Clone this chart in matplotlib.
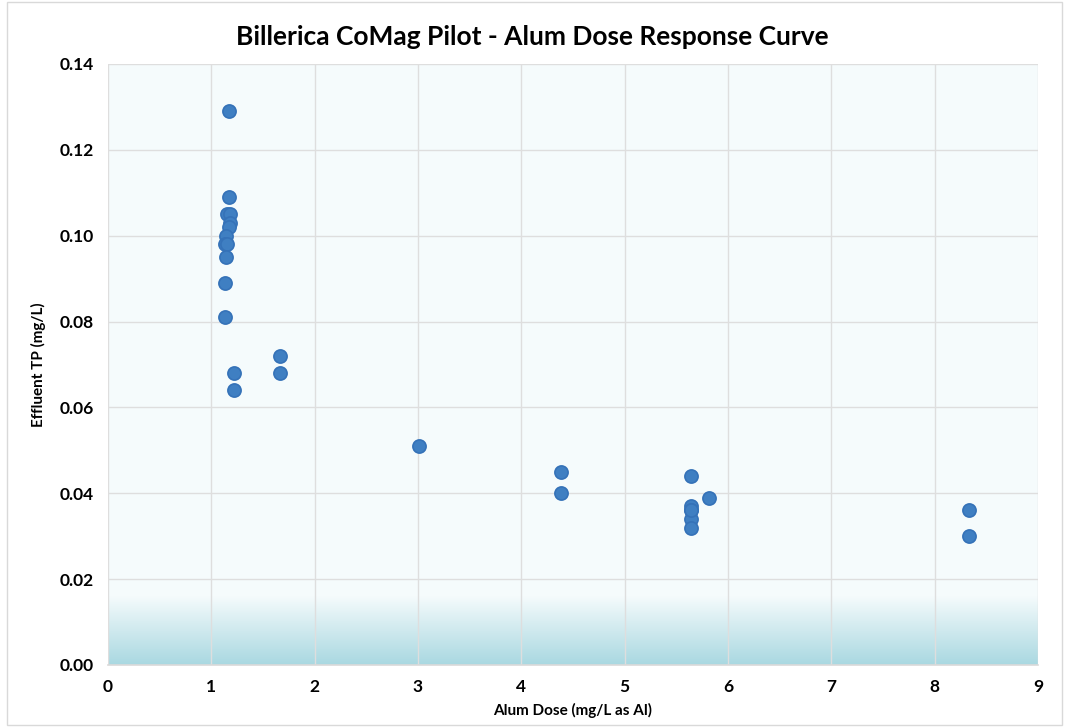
import numpy as np
import matplotlib
matplotlib.use("Agg")
import matplotlib.pyplot as plt
from matplotlib.colors import LinearSegmentedColormap

plt.rcParams['font.family'] = ['Lato', 'DejaVu Sans']

# Données
dose = [1.17, 1.17, 1.15, 1.18, 1.18, 1.17, 1.14, 1.13, 1.15, 1.14, 1.13, 1.13,
        1.22, 1.22, 1.66, 1.66, 3.01, 4.38, 4.38,
        5.64, 5.64, 5.64, 5.64, 5.64, 5.64, 5.82, 8.33, 8.33]
tp = [0.129, 0.109, 0.105, 0.105, 0.103, 0.102, 0.100, 0.098, 0.098, 0.095, 0.089, 0.081,
      0.068, 0.064, 0.072, 0.068, 0.051, 0.045, 0.040,
      0.044, 0.037, 0.036, 0.034, 0.032, 0.036, 0.039, 0.036, 0.030]

xticks = np.arange(0, 10, 1)
yticks = np.arange(0, 0.141, 0.02)

fig = plt.figure(figsize=(10.65, 7.27), dpi=100)
ax = fig.add_axes([0.1014, 0.0853, 0.8732, 0.8267])

# fond avec dégradé en bas
ax.set_facecolor('#f5fbfc')
cmap = LinearSegmentedColormap.from_list('fond', ['#a9d8e1', '#cfe9ee', '#f5fbfc'])
grad = np.linspace(0, 1, 256).reshape(-1, 1)
ax.imshow(grad, extent=[0, 9, 0, 0.016], origin='lower', aspect='auto', cmap=cmap, zorder=0)

ax.scatter(dose, tp, s=90, color='#3f7fc2', edgecolor='#3572b8', linewidth=1.2, zorder=3)

ax.set_xlim(0, 9)
ax.set_ylim(0, 0.14)
ax.set_xticks(xticks)
ax.set_yticks(yticks)
ax.set_yticklabels([f"{v:.2f}" for v in yticks])
ax.grid(True, color='#dedede', linewidth=1.0, zorder=1)
ax.set_axisbelow(True)
for s in ['top', 'right', 'left']:
    ax.spines[s].set_visible(False)
ax.spines['bottom'].set_color('#d9d9d9')
ax.spines['bottom'].set_linewidth(1.2)
ax.tick_params(length=0, labelsize=12.5, pad=10)
for lab in ax.get_xticklabels() + ax.get_yticklabels():
    lab.set_fontweight('bold')

ax.set_xlabel("Alum Dose (mg/L as Al)", fontsize=11, fontweight='bold', labelpad=6)
ax.set_ylabel("Effluent TP (mg/L)", fontsize=11, fontweight='bold', labelpad=10)
fig.suptitle("Billerica CoMag Pilot - Alum Dose Response Curve", fontsize=19,
             fontweight='bold', y=0.965)

# cadre léger autour de la figure
fig.patches.append(plt.Rectangle((0.007, 0.003), 0.99, 0.994, transform=fig.transFigure,
                                 fill=False, edgecolor='#d9d9d9', linewidth=1))

fig.savefig('out.png', dpi=100)
